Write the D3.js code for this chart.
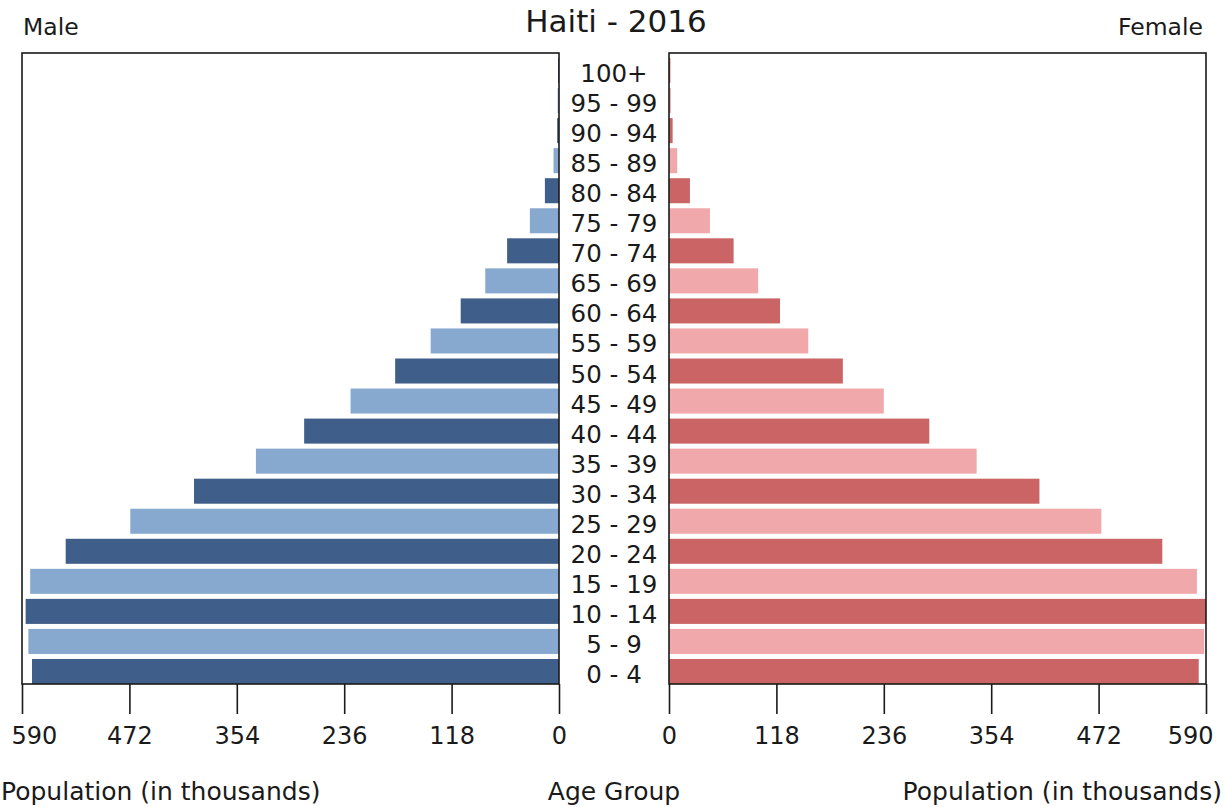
<!DOCTYPE html>
<html>
<head>
<meta charset="utf-8">
<script src="https://cdn.jsdelivr.net/npm/d3@7"></script>
<style>
  html, body { margin: 0; padding: 0; background: #fff; }
  svg { display: block; font-family: "DejaVu Sans", sans-serif; }
</style>
</head>
<body>
<svg id="chart" width="1224" height="807"></svg>
<script>
const ageGroups = ["0 - 4","5 - 9","10 - 14","15 - 19","20 - 24","25 - 29","30 - 34","35 - 39","40 - 44","45 - 49","50 - 54","55 - 59","60 - 64","65 - 69","70 - 74","75 - 79","80 - 84","85 - 89","90 - 94","95 - 99","100+"];
const male   = [579, 583, 586, 581, 542, 471, 401, 333, 280, 229, 180, 141, 108, 81, 57, 32, 15.5, 6, 2, 1.5, 1];
const female = [582, 588, 591, 580, 542, 475, 407, 338, 286, 236, 191, 153, 122, 98, 71, 45, 23, 9, 4, 2, 1.5];
const tickValues = [0, 118, 236, 354, 472, 590];
const maxValue = 590;

(function () {
const svg = d3.select("#chart");
const plotTop = 53, plotBottom = 684;
const leftPanel = {x0: 22, x1: 559};
const rightPanel = {x0: 669, x1: 1206};

const xL = d3.scaleLinear().domain([0, maxValue]).range([leftPanel.x1, leftPanel.x0]);
const xR = d3.scaleLinear().domain([0, maxValue]).range([rightPanel.x0, rightPanel.x1]);
const y = d3.scaleBand().domain(ageGroups).range([plotBottom, plotTop])
  .paddingInner(0.167).paddingOuter(0.0835).align(1);

const colors = {
  maleDark: "#3f5e89", maleLight: "#87a8cf",
  femaleDark: "#cb6465", femaleLight: "#f0a8aa"
};

const defs = svg.append("defs");
defs.append("clipPath").attr("id", "clipL").append("rect")
  .attr("x", leftPanel.x0).attr("y", plotTop).attr("width", leftPanel.x1 - leftPanel.x0).attr("height", plotBottom - plotTop);
defs.append("clipPath").attr("id", "clipR").append("rect")
  .attr("x", rightPanel.x0).attr("y", plotTop).attr("width", rightPanel.x1 - rightPanel.x0).attr("height", plotBottom - plotTop);

const data = ageGroups.map((g, i) => ({g, i, m: male[i], f: female[i]}));

svg.append("g").attr("clip-path", "url(#clipL)")
  .selectAll("rect").data(data).join("rect")
  .attr("x", d => xL(d.m))
  .attr("y", d => y(d.g))
  .attr("width", d => xL(0) - xL(d.m))
  .attr("height", y.bandwidth())
  .attr("fill", d => d.i % 2 === 0 ? colors.maleDark : colors.maleLight);

svg.append("g").attr("clip-path", "url(#clipR)")
  .selectAll("rect").data(data).join("rect")
  .attr("x", xR(0))
  .attr("y", d => y(d.g))
  .attr("width", d => xR(d.f) - xR(0))
  .attr("height", y.bandwidth())
  .attr("fill", d => d.i % 2 === 0 ? colors.femaleDark : colors.femaleLight);

// frames
[leftPanel, rightPanel].forEach(p => {
  svg.append("rect")
    .attr("x", p.x0).attr("y", plotTop)
    .attr("width", p.x1 - p.x0).attr("height", plotBottom - plotTop)
    .attr("fill", "none").attr("stroke", "#1a1a1a").attr("stroke-width", 1.6);
});

// axes
function drawAxis(scale) {
  const g = svg.append("g").attr("transform", `translate(0,${plotBottom})`)
    .call(d3.axisBottom(scale).tickValues(tickValues).tickSize(30).tickPadding(8).tickFormat(d3.format("d")));
  g.select(".domain").remove();
  g.selectAll(".tick line").attr("stroke", "#1a1a1a").attr("stroke-width", 1.6);
  g.selectAll(".tick text")
    .attr("font-family", "DejaVu Sans").attr("font-size", 24).attr("fill", "#1a1a1a")
    .attr("dy", "0.9em");
  g.selectAll(".tick").each(function(d) {
    const t = d3.select(this).select("text");
    const w = t.node().getComputedTextLength();
    const cx = scale(d);
    const clamped = Math.max(11 + w / 2, Math.min(1213 - w / 2, cx));
    t.attr("x", clamped - cx);
  });
}
drawAxis(xL);
drawAxis(xR);

// age labels
svg.append("g").selectAll("text").data(ageGroups).join("text")
  .attr("x", (leftPanel.x1 + rightPanel.x0) / 2)
  .attr("y", d => y(d) + y.bandwidth() / 2 + 11.5)
  .attr("text-anchor", "middle")
  .attr("font-size", 24.5)
  .attr("fill", "#1a1a1a")
  .text(d => d);

// titles
svg.append("text").attr("x", 616).attr("y", 32).attr("text-anchor", "middle")
  .attr("font-size", 31).attr("fill", "#1a1a1a").text("Haiti - 2016");
svg.append("text").attr("x", 23).attr("y", 35).attr("text-anchor", "start")
  .attr("font-size", 23.5).attr("fill", "#1a1a1a").text("Male");
svg.append("text").attr("x", 1203).attr("y", 35).attr("text-anchor", "end")
  .attr("font-size", 23.5).attr("fill", "#1a1a1a").text("Female");

svg.append("text").attr("x", 1).attr("y", 800).attr("text-anchor", "start")
  .attr("font-size", 25).attr("fill", "#1a1a1a").text("Population (in thousands)");
svg.append("text").attr("x", 614).attr("y", 800).attr("text-anchor", "middle")
  .attr("font-size", 25).attr("fill", "#1a1a1a").text("Age Group");
svg.append("text").attr("x", 1222).attr("y", 800).attr("text-anchor", "end")
  .attr("font-size", 25).attr("fill", "#1a1a1a").text("Population (in thousands)");
})();
</script>
</body>
</html>
